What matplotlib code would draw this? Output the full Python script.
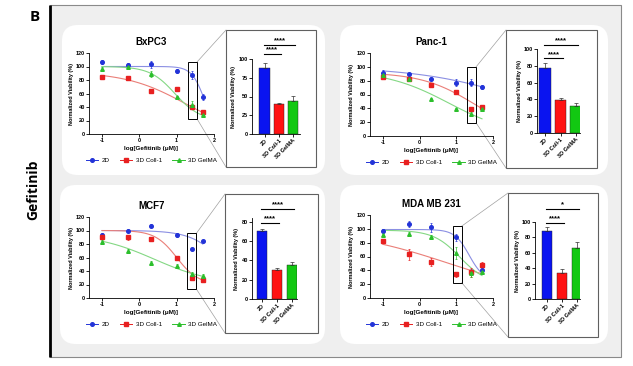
import matplotlib
matplotlib.use("Agg")
import matplotlib.pyplot as plt
import numpy as np
from matplotlib.patches import FancyBboxPatch, Rectangle
from matplotlib.lines import Line2D

plt.rcParams['font.family'] = ['Liberation Sans', 'DejaVu Sans']

W, H = 633, 366

# ---------------- data ----------------
log_conc = [-1, -0.3, 0.3, 1, 1.4, 1.7]
series_names = ["2D", "3D Coll-1", "3D GelMA"]
x_ticks = [-1, 0, 1, 2]
x_tick_labels = ["-1", "0", "1", "2"]

# BxPC3
bxpc3_2d = [107, 102, 103, 94, 88, 55]
bxpc3_2d_err = [3, 3, 5, 3, 6, 4]
bxpc3_coll = [85, 83, 63, 67, 40, 32]
bxpc3_coll_err = [1, 1, 1, 3, 2, 2]
bxpc3_gel = [96, 99, 89, 55, 43, 28]
bxpc3_gel_err = [3, 2, 4, 2, 6, 2]
# fit params: top, bottom, logIC50, hill
bxpc3_fit = [[100, 0, 1.75, 2.5], [92, 0, 1.2, 0.55], [100, 20, 0.95, 1.3]]
bxpc3_bar = [88, 40, 44]
bxpc3_bar_err = [7, 1, 7]

# Panc-1
panc_2d = [91, 89, 83, 77, 77, 71]
panc_2d_err = [4, 2, 2, 5, 5, 3]
panc_coll = [86, 82, 74, 63, 39, 42]
panc_coll_err = [3, 2, 2, 2, 2, 2]
panc_gel = [88, 82, 53, 39, 32, 39]
panc_gel_err = [2, 2, 2, 2, 3, 2]
panc_fit = [[100, 0, 3.0, 0.3], [92, 0, 1.5, 0.6], [95, 0, 0.8, 0.5]]
panc_bar = [77, 39, 32]
panc_bar_err = [6, 3, 4]

# MCF7
mcf7_2d = [94, 100, 107, 93, 72, 84]
mcf7_2d_err = [2, 2, 2, 3, 1, 1]
mcf7_coll = [91, 90, 88, 59, 30, 26]
mcf7_coll_err = [2, 4, 3, 2, 2, 2]
mcf7_gel = [83, 69, 52, 47, 35, 32]
mcf7_gel_err = [3, 3, 3, 3, 3, 3]
mcf7_fit = [[100, 0, 2.3, 1.0], [100, 20, 1.0, 1.5], [95, 20, 0.4, 0.55]]
mcf7_bar = [71, 30, 35]
mcf7_bar_err = [2, 2, 3]

# MDA MB 231
mda_2d = [97, 107, 102, 88, 38, 41]
mda_2d_err = [3, 4, 6, 5, 4, 3]
mda_coll = [82, 63, 52, 34, 37, 47]
mda_coll_err = [3, 8, 6, 4, 7, 5]
mda_gel = [91, 93, 88, 65, 36, 37]
mda_gel_err = [2, 2, 3, 9, 5, 3]
mda_fit = [[99, 25, 1.35, 2.2], [100, 0, 0.8, 0.3], [98, 20, 1.1, 1.2]]
mda_bar = [88, 34, 66]
mda_bar_err = [6, 5, 8]

# significance: (i, j, label, y)
bxpc3_sig = [(0, 1, "****", 107), (0, 2, "****", 119)]
panc_sig = [(0, 1, "****", 89), (0, 2, "****", 105)]
mcf7_sig = [(0, 1, "****", 79), (0, 2, "****", 93.5)]
mda_sig = [(0, 1, "****", 99), (0, 2, "*", 117)]

# ---------------- style ----------------
pt_colors = ['#2233d8', '#e82020', '#2cbf2c']
ln_colors = ['#8b8fe3', '#ea7f78', '#84d884']
bar_colors = ['#0a14f0', '#ff1212', '#12c812']
markers = ['o', 's', '^']


def logistic(x, top, bottom, ic50, hill):
    return bottom + (top - bottom) / (1 + 10 ** ((x - ic50) * hill))


fig = plt.figure(figsize=(W / 100, H / 100), dpi=100)

bg = fig.add_axes([0, 0, 1, 1], zorder=0)
bg.set_xlim(0, W)
bg.set_ylim(H, 0)
bg.axis('off')


def add_px_axes(x0, y0, x1, y1):
    ax = fig.add_axes([x0 / W, 1 - y1 / H, (x1 - x0) / W, (y1 - y0) / H], zorder=2)
    ax.set_facecolor('none')
    return ax


# outer frame
bg.add_patch(Rectangle((50, 5), 571, 352, facecolor='#efefef', edgecolor='#8a8a8a', lw=0.8))
bg.plot([50, 50], [5, 357], color='black', lw=2.0, solid_capstyle='butt')

# rounded white panels
for (x0, y0, x1, y1) in [(62, 25, 325, 175), (340, 25, 608, 175),
                         (60, 185, 325, 344), (340, 185, 608, 344)]:
    bg.add_patch(FancyBboxPatch((x0, y0), x1 - x0, y1 - y0,
                                boxstyle="round,pad=0,rounding_size=16",
                                facecolor='white', edgecolor='none'))

fig.text(35 / W, 1 - 17 / H, "B", fontsize=11, fontweight='bold', ha='center', va='center',
         family=['Open Sans', 'DejaVu Sans'])
fig.text(33 / W, 1 - 190 / H, "Gefitinib", fontsize=10, fontweight='bold', rotation=90,
         ha='center', va='center', family=['Open Sans', 'DejaVu Sans'])


def style_axes(ax):
    for s in ['top', 'right']:
        ax.spines[s].set_visible(False)
    for s in ['left', 'bottom']:
        ax.spines[s].set_linewidth(0.6)
    ax.tick_params(axis='both', length=2, width=0.6, pad=1, labelsize=4)


def dose_panel(box, title, vals, errs, fits, zrect, inset_box):
    ax = add_px_axes(*box)
    ax.set_xlim(-1.35, 2)
    ax.set_ylim(0, 120)
    xs = np.linspace(-1, 1.7, 120)
    for k in range(3):
        ax.plot(xs, logistic(xs, *fits[k]), color=ln_colors[k], lw=0.8, zorder=2)
    for k in range(3):
        ax.errorbar(log_conc, vals[k], yerr=errs[k], fmt=markers[k], ms=2.6,
                    color=pt_colors[k], ecolor=pt_colors[k], elinewidth=0.5,
                    capsize=1.0, capthick=0.5, zorder=3, clip_on=False)
    style_axes(ax)
    ax.set_xticks(x_ticks)
    ax.set_xticklabels(x_tick_labels, fontweight='bold')
    ax.set_yticks(range(0, 121, 20))
    ax.set_yticklabels([str(v) for v in range(0, 121, 20)], fontweight='bold')
    ax.set_xlabel("log[Gefitinib (μM)]", fontsize=4.5, fontweight='bold', labelpad=2)
    ax.set_ylabel("Normalized Viability (%)", fontsize=4, fontweight='bold', labelpad=1.5)
    ax.set_title(title, fontsize=7, fontweight='bold', pad=6)
    rx0, rx1, ry0, ry1 = zrect
    ax.add_patch(Rectangle((rx0, ry0), rx1 - rx0, ry1 - ry0, fill=False,
                           edgecolor='black', lw=0.7, zorder=4, clip_on=False))
    handles = [Line2D([0], [0], color=pt_colors[k], lw=0.7, marker=markers[k], ms=2.6)
               for k in range(3)]
    ax.legend(handles, series_names, loc='upper center', bbox_to_anchor=(0.5, -0.26),
              ncol=3, frameon=False, fontsize=4.5, handlelength=2.0, columnspacing=1.6,
              handletextpad=0.6, borderaxespad=0)
    # connectors to inset box
    inv = bg.transData.inverted()
    tr = inv.transform(ax.transData.transform((rx1, ry1)))
    br = inv.transform(ax.transData.transform((rx1, ry0)))
    bx0, by0, bx1, by1 = inset_box
    bg.plot([tr[0], bx0], [tr[1], by0], color='#a0a0a0', lw=0.5, zorder=3)
    bg.plot([br[0], bx0], [br[1], by1], color='#a0a0a0', lw=0.5, zorder=3)
    bg.add_patch(Rectangle((bx0, by0), bx1 - bx0, by1 - by0, facecolor='white',
                           edgecolor='#606060', lw=0.8, zorder=4))
    return ax


def bar_panel(box, xlim, ylim, yticks, vals, errs, sigs):
    ax = add_px_axes(*box)
    ax.set_xlim(*xlim)
    ax.set_ylim(*ylim)
    xs = [0, 1, 2]
    ax.bar(xs, vals, width=0.72, color=bar_colors, edgecolor='#202020', linewidth=0.3,
           yerr=[[0, 0, 0], errs], error_kw=dict(ecolor='#303030', elinewidth=0.5,
                                                 capsize=1.5, capthick=0.5))
    style_axes(ax)
    ax.set_yticks(yticks)
    ax.set_yticklabels([str(v) for v in yticks], fontweight='bold')
    ax.set_xticks(xs)
    ax.set_xticklabels(series_names, rotation=45, ha='right', rotation_mode='anchor',
                       fontsize=4, fontweight='bold')
    ax.set_ylabel("Normalized Viability (%)", fontsize=4, fontweight='bold', labelpad=1.5)
    for (i, j, lab, y) in sigs:
        ax.plot([i - 0.05, j + 0.15], [y, y], color='black', lw=0.8, clip_on=False)
        ax.text((i + j) / 2 + 0.05, y + ylim[1] * 0.005, lab, ha='center', va='bottom',
                fontsize=5.5, fontweight='bold', clip_on=False)
    return ax


dose_panel((89, 53, 214, 134), "BxPC3",
           [bxpc3_2d, bxpc3_coll, bxpc3_gel], [bxpc3_2d_err, bxpc3_coll_err, bxpc3_gel_err],
           bxpc3_fit, (1.3, 1.55, 22, 107), (226, 30, 316, 167))
bar_panel((252, 59, 300, 134), (-0.88, 2.49), (0, 100), [0, 25, 50, 75, 100],
          bxpc3_bar, bxpc3_bar_err, bxpc3_sig)

dose_panel((370, 53, 493, 136), "Panc-1",
           [panc_2d, panc_coll, panc_gel], [panc_2d_err, panc_coll_err, panc_gel_err],
           panc_fit, (1.3, 1.54, 19, 100), (506, 30, 597, 168))
bar_panel((537, 49, 580, 133), (-0.52, 2.26), (0, 100), [0, 20, 40, 60, 80, 100],
          panc_bar, panc_bar_err, panc_sig)

dose_panel((89, 217, 214, 298), "MCF7",
           [mcf7_2d, mcf7_coll, mcf7_gel], [mcf7_2d_err, mcf7_coll_err, mcf7_gel_err],
           mcf7_fit, (1.28, 1.53, 13, 96), (225, 194, 318, 333))
bar_panel((252, 218, 297, 299), (-0.67, 2.33), (0, 84), [0, 20, 40, 60, 80],
          mcf7_bar, mcf7_bar_err, mcf7_sig)

dose_panel((370, 215, 493, 298), "MDA MB 231",
           [mda_2d, mda_coll, mda_gel], [mda_2d_err, mda_coll_err, mda_gel_err],
           mda_fit, (0.9, 1.15, 22, 104), (508, 193, 598, 337))
bar_panel((535, 222, 580, 299), (-0.8, 2.2), (0, 100), [0, 20, 40, 60, 80, 100],
          mda_bar, mda_bar_err, mda_sig)

fig.savefig("out.png", dpi=100, facecolor='white')
